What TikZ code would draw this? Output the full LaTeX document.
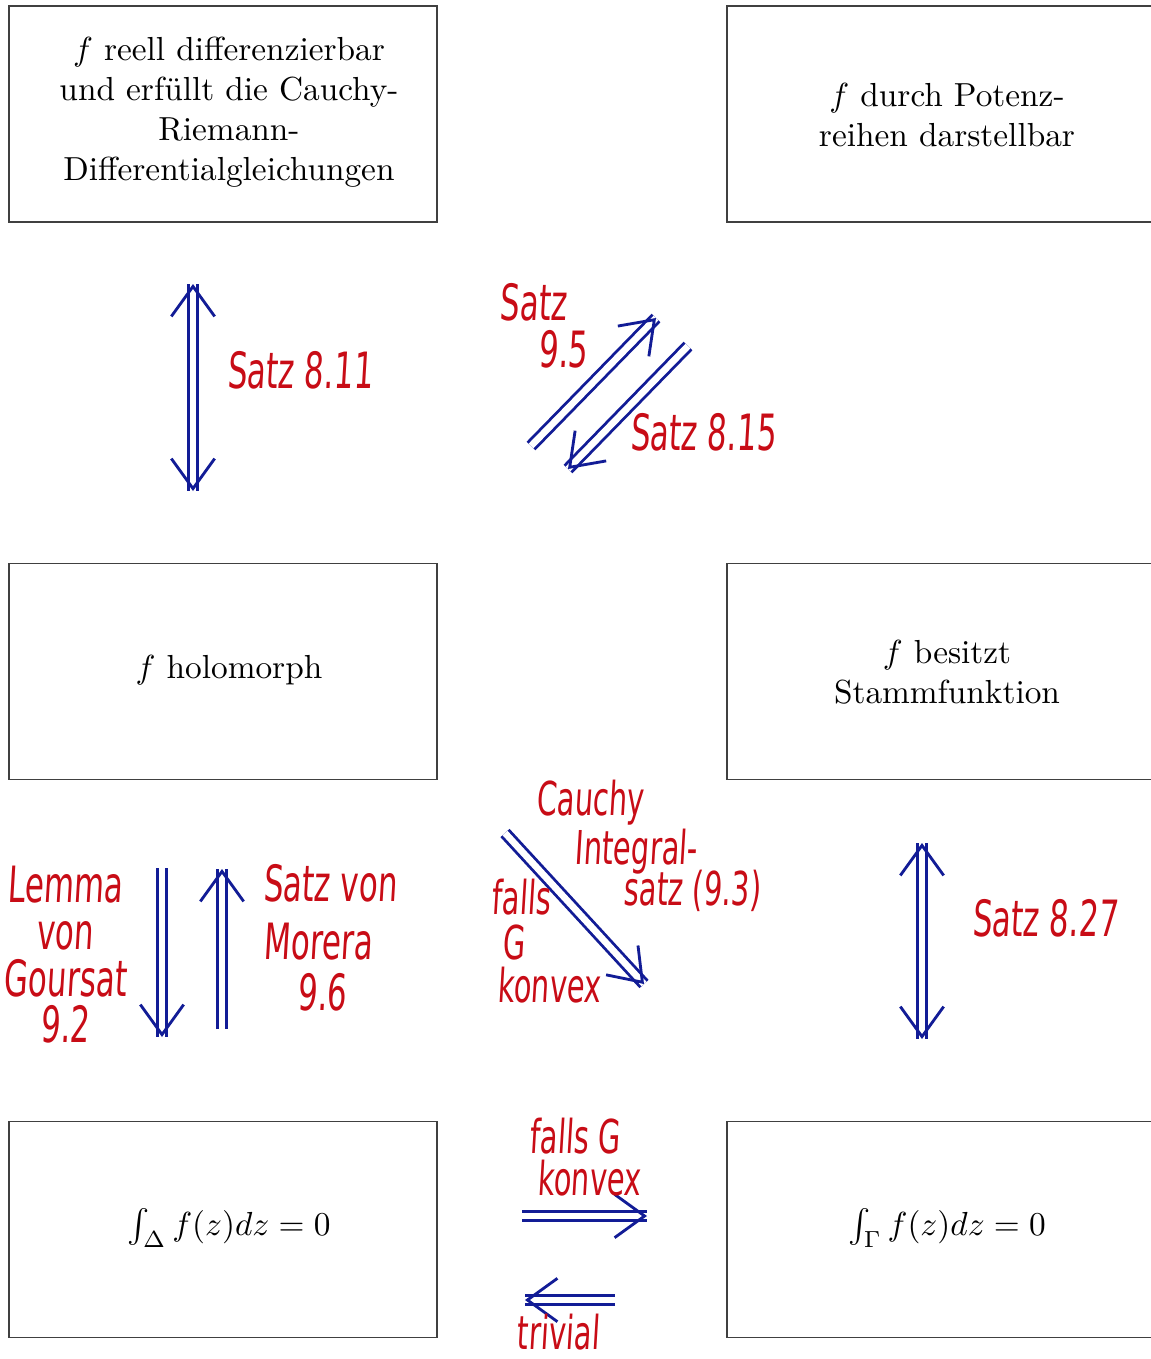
\documentclass[tikz,border=0pt]{standalone}
\usepackage{fontspec}
\usetikzlibrary{arrows.meta,calc}
\newfontfamily\hand[FakeStretch=0.62,FakeSlant=0.06]{DejaVu Sans}
\definecolor{pen}{RGB}{200,12,22}
\definecolor{ink}{RGB}{18,28,150}
\begin{document}
\begin{tikzpicture}[x=0.3pt,y=-0.3pt,
  box/.style={draw=black!75, line width=0.45pt, minimum width=128.4pt, minimum height=64.8pt,
    align=center, inner sep=0pt, font=\fontsize{10}{12}\selectfont},
  boxtext/.style={align=center, inner sep=0pt, font=\fontsize{10}{12}\selectfont},
  dbl/.style={draw=ink, line width=0.85pt, double=white, double distance=2pt},
  tip/.style={draw=ink, line width=0.85pt, -{Straight Barb[length=9pt,width=13pt]}},
  hw/.style={text=pen, font=\hand\fontsize{15}{14}\selectfont, inner sep=0pt, align=center},
  hws/.style={text=pen, font=\hand\fontsize{14}{13}\selectfont, inner sep=0pt, align=center}]
\useasboundingbox (0,0) rectangle (1151,1359);
\clip (0,0) rectangle (1151,1359);
\fill[white] (0,0) rectangle (1151,1359);

% boxes
\node[box] (cr) at (223,114) {};
\node[boxtext] (crt) at (229,112) {$f$ reell differenzierbar\\und erfüllt die Cauchy-\\Riemann-\\Differentialgleichungen};
\node[box] (pot) at (941,114) {};
\node[boxtext] (pott) at (947,115) {$f$ durch Potenz-\\reihen darstellbar};
\node[box] (hol) at (223,671.5) {};
\node[boxtext] (holt) at (229,670) {$f$ holomorph};
\node[box] (stamm) at (941,671.5) {};
\node[boxtext] (stammt) at (947,672) {$f$ besitzt\\Stammfunktion};
\node[box] (tri) at (223,1229.5) {};
\node[boxtext] (trit) at (229,1228) {$\int_\Delta f(z)dz=0$};
\node[box] (gam) at (941,1229.5) {};
\node[boxtext] (gamt) at (947,1228) {$\int_\Gamma f(z)dz=0$};

% arrow 1: vertical, both ends
\coordinate (a1) at (193,284);
\coordinate (a2) at (193,491);
\draw[dbl] (a1) -- (a2);
\draw[tip] ($(a1)!0.02!(a2)$) -- (a1);
\draw[tip] ($(a2)!0.02!(a1)$) -- (a2);
\node[hw] (l1) at (300,370) {Satz 8.11};

% arrow 2: up-right
\coordinate (b1) at (531,446);
\coordinate (b2) at (656,318);
\draw[dbl] (b1) -- (b2);
\draw[tip] ($(b2)!0.02!(b1)$) -- (b2);
\node[hw] (l2) at (533,326) {Satz\\\hspace*{1.2em}9.5};

% arrow 3: down-left
\coordinate (c1) at (688,346);
\coordinate (c2) at (568,469);
\draw[dbl] (c1) -- (c2);
\draw[tip] ($(c2)!0.02!(c1)$) -- (c2);
\node[hw] (l3) at (703,432) {Satz 8.15};

% arrow 4: down (Goursat)
\coordinate (d1) at (162,868);
\coordinate (d2) at (162,1037);
\draw[dbl] (d1) -- (d2);
\draw[tip] ($(d2)!0.02!(d1)$) -- (d2);
\node[hw] (l4) at (65,955) {Lemma\\von\\Goursat\\9.2};

% arrow 5: up (Morera)
\coordinate (e1) at (222,1029);
\coordinate (e2) at (222,869);
\draw[dbl] (e1) -- (e2);
\draw[tip] ($(e2)!0.02!(e1)$) -- (e2);
\node[hw] (l5a) at (330,883) {Satz von};
\node[hw] (l5b) at (318,942) {Morera};
\node[hw] (l5c) at (322,992) {9.6};

% arrow 6: diagonal down-right (Cauchy)
\coordinate (f1) at (505,833);
\coordinate (f2) at (644,984);
\draw[dbl] (f1) -- (f2);
\draw[tip] ($(f2)!0.02!(f1)$) -- (f2);
\node[hws] (l6a) at (590,803) {Cauchy};
\node[hws] (l6b) at (636,852) {Integral-};
\node[hws] (l6c) at (692,891) {satz (9.3)};
\node[hws] (l6d) at (521,897) {falls};
\node[hws] (l6e) at (514,943) {G};
\node[hws] (l6f) at (549,985) {konvex};

% arrow 7: vertical right, both ends
\coordinate (g1) at (922,843);
\coordinate (g2) at (922,1039);
\draw[dbl] (g1) -- (g2);
\draw[tip] ($(g1)!0.02!(g2)$) -- (g1);
\draw[tip] ($(g2)!0.02!(g1)$) -- (g2);
\node[hw] (l7) at (1045,918) {Satz 8.27};

% arrow 8: right (falls G konvex)
\coordinate (h1) at (522,1216);
\coordinate (h2) at (647,1216);
\draw[dbl] (h1) -- (h2);
\draw[tip] ($(h2)!0.02!(h1)$) -- (h2);
\node[hws] (l8a) at (575,1136) {falls G};
\node[hws] (l8b) at (589,1178) {konvex};

% arrow 9: left (trivial)
\coordinate (i1) at (615,1300);
\coordinate (i2) at (525,1300);
\draw[dbl] (i1) -- (i2);
\draw[tip] ($(i2)!0.02!(i1)$) -- (i2);
\node[hws] (l9) at (558,1332) {trivial};
\end{tikzpicture}
\end{document}
